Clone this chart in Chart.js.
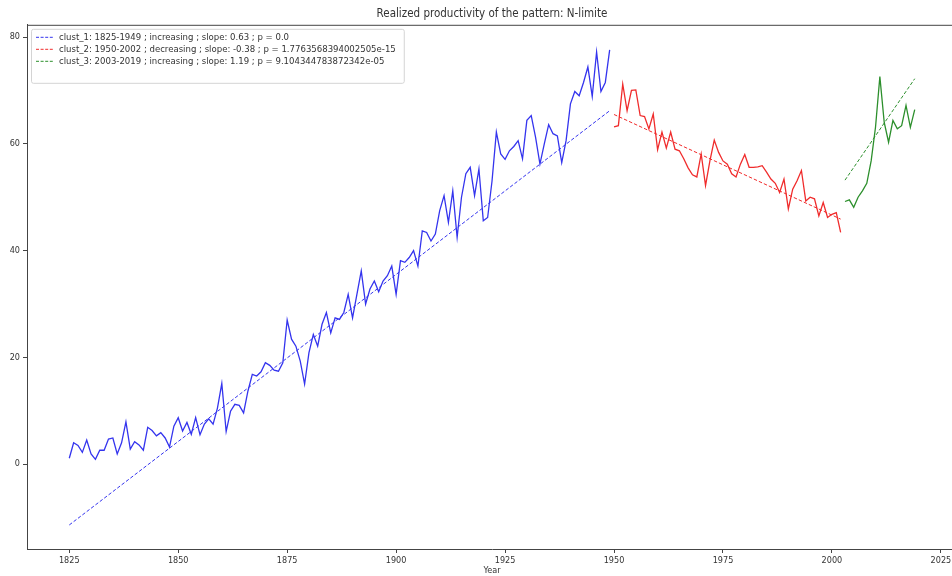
<!DOCTYPE html>
<html>
<head>
<meta charset="utf-8">
<script src="https://cdn.jsdelivr.net/npm/chart.js@4/dist/chart.umd.min.js"></script>
<style>
  html, body { margin: 0; padding: 0; background: #fff; overflow: hidden; width: 952px; height: 576px; }
  #wrap { position: absolute; left: 0; top: 0; width: 970px; height: 576px; }
</style>
</head>
<body>
<div id="wrap"><canvas id="chart" width="970" height="576"></canvas></div>
<script>
// Realized productivity per year, split into three clusters
const clust1Start = 1825;
const clust1Values = [
  1.1, 4.0, 3.5, 2.2, 4.5, 1.9, 0.9, 2.6, 2.6, 4.7,
  4.9, 1.9, 4.0, 7.9, 2.8, 4.2, 3.6, 2.6, 6.9, 6.3,
  5.3, 5.9, 4.9, 3.2, 7.1, 8.7, 6.2, 7.8, 5.6, 8.7,
  5.5, 7.5, 8.5, 7.5, 10.5, 15.1, 6.1, 9.9, 11.2, 11.0,
  9.6, 13.7, 16.8, 16.5, 17.3, 19.0, 18.5, 17.6, 17.4, 19.0,
  27.0, 23.4, 22.1, 19.3, 15.0, 20.9, 24.3, 22.1, 26.2, 28.4,
  24.6, 27.4, 27.1, 28.4, 31.8, 27.4, 31.8, 36.2, 30.0, 32.8,
  34.3, 32.3, 34.3, 35.3, 37.1, 31.8, 38.1, 37.8, 38.7, 40.0,
  37.1, 43.7, 43.4, 41.8, 43.1, 47.5, 50.3, 45.3, 51.2, 42.5,
  50.0, 54.4, 55.6, 50.3, 55.3, 45.6, 46.2, 53.0, 62.2, 58.1,
  57.1, 58.7, 59.5, 60.6, 57.2, 64.4, 65.3, 61.2, 56.2, 60.0,
  63.6, 61.9, 61.5, 56.5, 60.6, 67.5, 69.8, 69.0, 71.5, 74.4,
  68.9, 77.2, 69.8, 71.5, 77.6
];

const clust2Start = 1950;
const clust2Values = [
  63.2, 63.4, 71.2, 66.2, 70.0, 70.1, 65.3, 65.1, 62.8, 65.6,
  58.9, 62.2, 59.2, 62.2, 59.0, 58.7, 57.2, 55.5, 54.2, 53.8,
  58.1, 52.2, 56.8, 60.7, 58.4, 56.8, 56.2, 54.4, 53.8, 56.2,
  58.0, 55.6, 55.6, 55.7, 55.9, 54.7, 53.4, 52.6, 50.9, 53.4,
  47.8, 51.5, 53.1, 55.0, 49.3, 50.0, 49.7, 46.5, 49.0, 46.2,
  46.8, 47.1, 43.4
];

const clust3Start = 2003;
const clust3Values = [
  49.2, 49.5, 48.1, 50.0, 51.2, 52.6, 56.8, 63.1, 72.6, 64.0,
  60.3, 64.4, 62.8, 63.4, 67.2, 63.1, 66.4
];

// Linear trend of each cluster: [year, value] at both ends
const trend1 = [[1825, -11.4], [1949, 66.2]];
const trend2 = [[1950, 65.5], [2002, 45.9]];
const trend3 = [[2003, 53.2], [2019, 72.2]];

const legendLabels = [
  'clust_1: 1825-1949 ; increasing ; slope: 0.63 ; p = 0.0',
  'clust_2: 1950-2002 ; decreasing ; slope: -0.38 ; p = 1.7763568394002505e-15',
  'clust_3: 2003-2019 ; increasing ; slope: 1.19 ; p = 9.104344783872342e-05'
];

const xTicks = [1825, 1850, 1875, 1900, 1925, 1950, 1975, 2000, 2025];
const yTicks = [0, 20, 40, 60, 80];

const BLUE = '#3434ee';
const RED = '#f02c2c';
const GREEN = '#2c8f2c';
const AXIS = '#444';
const TEXT = '#333';
const FONT = '"DejaVu Sans Condensed", "DejaVu Sans", sans-serif';

const toPoints = (start, values) => values.map((v, i) => ({ x: start + i, y: v }));
const toXY = pairs => pairs.map(p => ({ x: p[0], y: p[1] }));

const lineSet = (data, color) => ({
  data, borderColor: color, borderWidth: 1.3, pointRadius: 0, fill: false, tension: 0
});
const trendSet = (label, data, color) => ({
  label, data, borderColor: color, borderWidth: 1, borderDash: [3.5, 2],
  pointRadius: 0, fill: false, tension: 0, isTrend: true
});

// Axes box: top and right edges
const framePlugin = {
  id: 'frame',
  afterDraw(chart) {
    const { ctx, chartArea: a } = chart;
    ctx.save();
    ctx.strokeStyle = AXIS;
    ctx.lineWidth = 1;
    ctx.beginPath();
    ctx.moveTo(a.left, a.top + 0.5);
    ctx.lineTo(a.right, a.top + 0.5);
    ctx.lineTo(a.right - 0.5, a.bottom);
    ctx.stroke();
    ctx.restore();
  }
};

// Legend in the upper-left corner of the axes, dashed samples
const legendPlugin = {
  id: 'cornerLegend',
  afterDraw(chart) {
    const { ctx, chartArea: a } = chart;
    const sets = chart.data.datasets.filter(d => d.isTrend);
    ctx.save();
    ctx.font = '9.5px ' + FONT;
    const maxW = Math.max(...sets.map(d => ctx.measureText(d.label).width));
    const boxX = a.left + 4, boxY = a.top + 4;
    const rowH = 12;
    const boxW = 28 + maxW + 8, boxH = rowH * sets.length + 18;
    ctx.fillStyle = 'rgba(255,255,255,0.85)';
    ctx.strokeStyle = '#d4d4d4';
    ctx.lineWidth = 1;
    ctx.beginPath();
    ctx.roundRect(boxX + 0.5, boxY + 0.5, boxW, boxH, 2);
    ctx.fill();
    ctx.stroke();
    sets.forEach((d, i) => {
      const y = boxY + 8.5 + i * rowH;
      ctx.strokeStyle = d.borderColor;
      ctx.lineWidth = 1;
      ctx.setLineDash([3, 1.6]);
      ctx.beginPath();
      ctx.moveTo(boxX + 5, y);
      ctx.lineTo(boxX + 23, y);
      ctx.stroke();
      ctx.setLineDash([]);
      ctx.fillStyle = TEXT;
      ctx.textBaseline = 'middle';
      ctx.textAlign = 'left';
      ctx.fillText(d.label, boxX + 28, y);
    });
    ctx.restore();
  }
};

new Chart(document.getElementById('chart'), {
  type: 'line',
  data: {
    datasets: [
      trendSet(legendLabels[0], toXY(trend1), BLUE),
      trendSet(legendLabels[1], toXY(trend2), RED),
      trendSet(legendLabels[2], toXY(trend3), GREEN),
      lineSet(toPoints(clust1Start, clust1Values), BLUE),
      lineSet(toPoints(clust2Start, clust2Values), RED),
      lineSet(toPoints(clust3Start, clust3Values), GREEN)
    ]
  },
  options: {
    responsive: false,
    animation: false,
    events: [],
    layout: { padding: { top: 0, right: 13, bottom: 0, left: 0 } },
    plugins: {
      legend: { display: false },
      tooltip: { enabled: false },
      title: {
        display: true,
        fullSize: false,
        text: 'Realized productivity of the pattern: N-limite',
        color: TEXT,
        font: { family: FONT, size: 11.5, weight: 'normal' },
        padding: { top: 7, bottom: 4 }
      }
    },
    scales: {
      x: {
        type: 'linear',
        min: 1815.3,
        max: 2028.7,
        afterBuildTicks: axis => { axis.ticks = xTicks.map(v => ({ value: v })); },
        afterFit: scale => { scale.height = 27; },
        ticks: {
          callback: v => String(v),
          color: TEXT, font: { family: FONT, size: 9 },
          padding: 2, maxRotation: 0, autoSkip: false
        },
        grid: { display: true, drawOnChartArea: false, drawTicks: true, tickLength: 4, color: AXIS },
        border: { display: true, color: AXIS, width: 1 },
        title: { display: true, text: 'Year', color: TEXT, font: { family: FONT, size: 9 }, padding: { top: 0, bottom: 0 } }
      },
      y: {
        type: 'linear',
        min: -15.9,
        max: 82.3,
        afterBuildTicks: axis => { axis.ticks = yTicks.map(v => ({ value: v })); },
        afterFit: scale => { scale.width = 27; },
        ticks: { color: TEXT, font: { family: FONT, size: 9 }, padding: 3 },
        grid: { display: true, drawOnChartArea: false, drawTicks: true, tickLength: 4, color: AXIS },
        border: { display: true, color: AXIS, width: 1 }
      }
    }
  },
  plugins: [framePlugin, legendPlugin]
});
</script>
</body>
</html>
